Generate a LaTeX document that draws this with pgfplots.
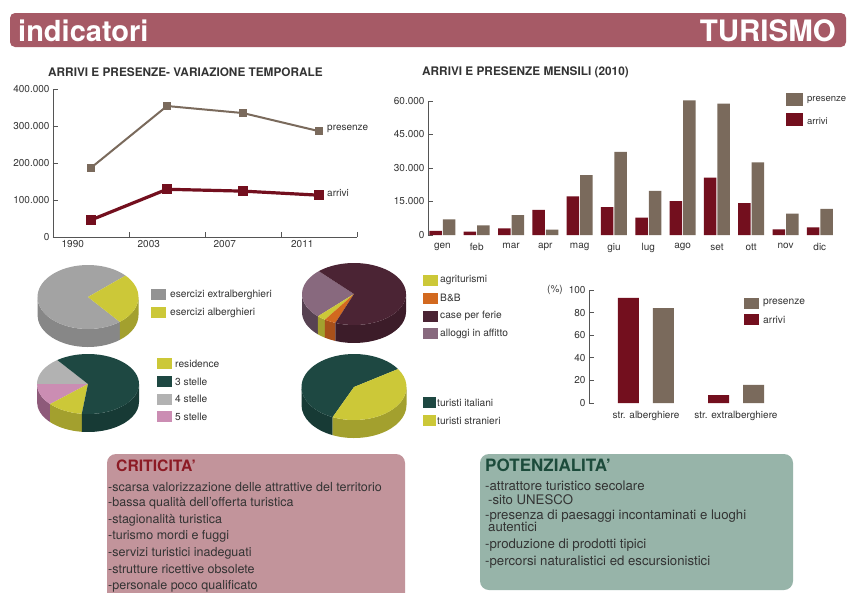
\documentclass[border=0pt]{standalone}
\usepackage{pgfplots}
\pgfplotsset{compat=1.18}
\usepackage{fontspec}
\setmainfont{TeX Gyre Heros}
\usetikzlibrary{calc}
\definecolor{hdr}{HTML}{A65A66}
\definecolor{presc}{HTML}{7A6A5C}
\definecolor{arrc}{HTML}{730F1E}
\definecolor{txt}{HTML}{333333}
\definecolor{axc}{HTML}{555555}
\definecolor{pgrey}{HTML}{A3A3A3}\definecolor{pgreyS}{HTML}{878787}
\definecolor{pyel}{HTML}{CCC838}\definecolor{pyelS}{HTML}{A3A02E}
\definecolor{pdark}{HTML}{4B2434}\definecolor{pdarkS}{HTML}{3C1C29}
\definecolor{pmauve}{HTML}{88697E}\definecolor{pmauveS}{HTML}{574252}
\definecolor{porange}{HTML}{D2691F}\definecolor{porangeS}{HTML}{A8501A}
\definecolor{pteal}{HTML}{1E4842}\definecolor{ptealS}{HTML}{173A35}
\definecolor{plgrey}{HTML}{B2B2B2}
\definecolor{ppink}{HTML}{CB8DB3}\definecolor{ppinkS}{HTML}{8E5A7A}
\definecolor{critbg}{HTML}{C2949B}\definecolor{crittl}{HTML}{8C1A24}
\definecolor{potbg}{HTML}{97B4A9}\definecolor{pottl}{HTML}{1C4B3B}
% top wedge: cx cy rx ry a1 a2 color
\newcommand\wtop[7]{\fill[#7] (#1pt,#2pt) -- ($(#1pt,#2pt)+(#5:#3pt and #4pt)$) arc[start angle=#5, end angle=#6, x radius=#3pt, y radius=#4pt] -- cycle;}
% side wall: cx cy rx ry depth a1 a2 color
\newcommand\wside[8]{\fill[#8] ($(#1pt,#2pt)+(#6:#3pt and #4pt)$) arc[start angle=#6, end angle=#7, x radius=#3pt, y radius=#4pt] -- ++(0,-#5pt) arc[start angle=#7, end angle=#6, x radius=#3pt, y radius=#4pt] -- cycle;}
\newcommand\sw[3]{\fill[#3] (#1pt,#2pt) rectangle ++(15pt,-11pt);}
\pgfplotsset{
  every axis/.append style={scale only axis, clip=false,
    scaled y ticks=false,
    /pgf/number format/assume math mode=true,
    tick label style={font=\fontsize{10}{11}\selectfont, text=txt},
    axis line style={-, draw=axc, line width=0.8pt},
    major tick style={draw=axc, line width=0.8pt},
    tick align=inside, major tick length=5pt}
}
\begin{document}
\begin{tikzpicture}[x=1pt,y=1pt]
\useasboundingbox (0,0) rectangle (849,-592);
\fill[white] (0,0) rectangle (849,-592);
% header
\fill[hdr, rounded corners=5pt] (10,-13) rectangle (846,-47);
\node[anchor=base west, white, inner sep=0, font=\bfseries\fontsize{29}{29}\selectfont] at (18,-41) {indicatori};
\node[anchor=base east, white, inner sep=0, font=\bfseries\fontsize{29.5}{29.5}\selectfont] at (836,-41) {TURISMO};
% titles
\node[anchor=west, inner sep=0, text=txt, font=\bfseries\fontsize{11.8}{12}\selectfont] at (48,-72) {ARRIVI E PRESENZE- VARIAZIONE TEMPORALE};
\node[anchor=west, inner sep=0, text=txt, font=\bfseries\fontsize{11.8}{12}\selectfont] at (422,-72) {ARRIVI E PRESENZE MENSILI (2010)};

% line chart
\begin{axis}[at={(53pt,-237pt)}, anchor=south west, width=304pt, height=148pt,
  xmin=-0.5, xmax=3.5, ymin=0, ymax=400000,
  axis x line*=bottom, axis y line*=left, tick align=inside,
  xtick={0.5,1.5,2.5,3.5}, xticklabels={},
  extra x ticks={-0.24,0.76,1.76,2.78}, extra x tick labels={1990,2003,2007,2011},
  extra x tick style={major tick length=0pt},
  ytick={0,100000,200000,300000,400000}, yticklabels={0,100.000,200.000,300.000,400.000}]
\addplot[presc, line width=2pt, mark=square*, mark size=3pt] coordinates {(0,187000)(1,354000)(2,335000)(3,286000)};
\addplot[arrc, line width=3.2pt, mark=square*, mark size=3.5pt] coordinates {(0,46000)(1,129000)(2,124000)(3,113000)};
\end{axis}
\node[anchor=west, text=txt, inner sep=0, font=\fontsize{10}{11}\selectfont] at (327,-129) {presenze};
\node[anchor=west, text=txt, inner sep=0, font=\fontsize{10}{11}\selectfont] at (327,-193) {arrivi};

% monthly bar chart
\begin{axis}[at={(428pt,-235pt)}, anchor=south west, width=409pt, height=134pt,
  xmin=-0.42, xmax=11.5, ymin=0, ymax=60000,
  axis x line*=bottom, axis y line*=left, tick align=inside,
  x axis line style={draw=none},
  ybar, bar width=12.5pt,
  xtick={0,...,11}, xticklabels={gen,feb,mar,apr,mag,giu,lug,ago,set,ott,nov,dic},
  xtick style={draw=none},
  ytick={0,15000,30000,45000,60000}, yticklabels={0,15.000,30.000,45.000,60.000}]
\addplot[fill=arrc, draw=none, bar shift=-6.75pt] coordinates {(0,1800)(1,1500)(2,3000)(3,11250)(4,17250)(5,12450)(6,7800)(7,15150)(8,25650)(9,14250)(10,2550)(11,3450)};
\addplot[fill=presc, draw=none, bar shift=6.75pt] coordinates {(0,7050)(1,4350)(2,8850)(3,2400)(4,26850)(5,37200)(6,19800)(7,60300)(8,58800)(9,32550)(10,9600)(11,11700)};
\end{axis}
\fill[presc] (786,-93) rectangle (803,-106);
\fill[arrc] (786,-113) rectangle (803,-126);
\node[anchor=west, text=txt, inner sep=0, font=\fontsize{9.5}{10}\selectfont] at (807,-100) {presenze};
\node[anchor=west, text=txt, inner sep=0, font=\fontsize{9.5}{10}\selectfont] at (807,-121) {arrivi};

% percentage chart
\begin{axis}[at={(589pt,-403pt)}, anchor=south west, width=192pt, height=113pt,
  xmin=-0.633, xmax=1.5, ymin=0, ymax=100,
  axis x line*=bottom, axis y line*=left, tick align=inside,
  x axis line style={draw=none},
  ybar, bar width=21pt,
  xtick={0,1}, xticklabels={str. alberghiere,str. extralberghiere}, xtick style={draw=none},
  ytick={0,20,40,60,80,100}]
\addplot[fill=arrc, draw=none, bar shift=-17.5pt] coordinates {(0,93)(1,7)};
\addplot[fill=presc, draw=none, bar shift=17.5pt] coordinates {(0,84)(1,16)};
\end{axis}
\node[anchor=west, text=txt, inner sep=0, font=\fontsize{10}{11}\selectfont] at (547,-290) {(\%)};
\fill[presc] (744,-298) rectangle (759,-309);
\fill[arrc] (744,-314) rectangle (759,-325);
\node[anchor=west, text=txt, inner sep=0, font=\fontsize{10.2}{11}\selectfont] at (763,-303) {presenze};
\node[anchor=west, text=txt, inner sep=0, font=\fontsize{10.2}{11}\selectfont] at (763,-320) {arrivi};

% ---- pies ----
% pie 1
\wside{88}{-297}{50.5}{32}{18}{180}{309}{pgreyS}
\wside{88}{-297}{50.5}{32}{18}{309}{360}{pyelS}
\wtop{88}{-297}{50.5}{32}{42}{309}{pgrey}
\wtop{88}{-297}{50.5}{32}{309}{402}{pyel}
% pie 2
\wside{354}{-294}{52}{31}{18}{180}{226}{pmauveS}
\wside{354}{-294}{52}{31}{18}{226}{236}{pyelS}
\wside{354}{-294}{52}{31}{18}{236}{249}{porangeS}
\wside{354}{-294}{52}{31}{18}{249}{360}{pdarkS}
\wtop{354}{-294}{52}{31}{132.5}{226}{pmauve}
\wtop{354}{-294}{52}{31}{226}{236}{pyel}
\wtop{354}{-294}{52}{31}{236}{249}{porange}
\wtop{354}{-294}{52}{31}{249}{492.5}{pdark}
% pie 3
\wside{88}{-384}{51}{30}{18}{180}{222}{ppinkS}
\wside{88}{-384}{51}{30}{18}{222}{263}{pyelS}
\wside{88}{-384}{51}{30}{18}{263}{360}{ptealS}
\wtop{88}{-384}{51}{30}{127}{180}{plgrey}
\wtop{88}{-384}{51}{30}{180}{222}{ppink}
\wtop{88}{-384}{51}{30}{222}{263}{pyel}
\wtop{88}{-384}{51}{30}{263}{487}{pteal}
% pie 4
\wside{354}{-387}{52.5}{33}{18}{180}{246}{ptealS}
\wside{354}{-387}{52.5}{33}{18}{246}{360}{pyelS}
\wtop{354}{-387}{52.5}{33}{33}{246}{pteal}
\wtop{354}{-387}{52.5}{33}{246}{393}{pyel}

% pie legends
\begin{scope}[every node/.style={anchor=west, text=txt, inner sep=0, font=\fontsize{10.2}{11}\selectfont}]
\sw{151}{-289}{pgrey!90!black}\node at (170,-295) {esercizi extralberghieri};
\sw{151}{-307}{pyel}\node at (170,-313) {esercizi alberghieri};
\sw{423}{-275}{pyel}\node at (440,-280.5) {agriturismi};
\sw{423}{-293}{porange}\node at (440,-298) {B\&B};
\sw{423}{-310.5}{pdark}\node at (440,-316) {case per ferie};
\sw{423}{-328}{pmauve}\node at (440,-333.5) {alloggi in affitto};
\sw{157}{-358}{pyel}\node at (175,-363.5) {residence};
\sw{157}{-376}{pteal}\node at (175,-381.5) {3 stelle};
\sw{157}{-393.5}{plgrey}\node at (175,-399) {4 stelle};
\sw{157}{-411}{ppink}\node at (175,-416.5) {5 stelle};
\fill[pteal] (423,-397) rectangle ++(13,-11);\node at (437,-402.5) {turisti italiani};
\fill[pyel] (423,-415) rectangle ++(13,-11);\node at (437,-420.5) {turisti stranieri};
\end{scope}

% boxes
\fill[critbg, rounded corners=9pt] (107,-454) rectangle (405,-610);
\fill[potbg, rounded corners=9pt] (480,-454) rectangle (793,-590);
\node[anchor=west, inner sep=0, text=crittl, font=\bfseries\fontsize{15.7}{16}\selectfont] at (116,-466) {CRITICITA'};
\node[anchor=west, inner sep=0, text=pottl, font=\bfseries\fontsize{17}{17}\selectfont] at (485,-465) {POTENZIALITA'};
\begin{scope}[every node/.style={anchor=west, text=txt, inner sep=0, font=\fontsize{12.5}{13}\selectfont}]
\node at (108,-487) {-scarsa valorizzazione delle attrattive del territorio};
\node at (108,-503.5) {-bassa qualità dell'offerta turistica};
\node at (108,-520) {-stagionalità turistica};
\node at (108,-536.5) {-turismo mordi e fuggi};
\node at (108,-553) {-servizi turistici inadeguati};
\node at (108,-569.5) {-strutture ricettive obsolete};
\node at (108,-586) {-personale poco qualificato};
\end{scope}
\begin{scope}[every node/.style={anchor=west, text=txt, inner sep=0, font=\fontsize{13.2}{14}\selectfont}]
\node at (485,-486) {-attrattore turistico secolare};
\node at (488,-500) {-sito UNESCO};
\node at (485,-516.5) {-presenza di paesaggi incontaminati e luoghi};
\node at (488,-527) {autentici};
\node at (485,-545) {-produzione di prodotti tipici};
\node at (485,-562) {-percorsi naturalistici ed escursionistici};
\end{scope}
\end{tikzpicture}
\end{document}
